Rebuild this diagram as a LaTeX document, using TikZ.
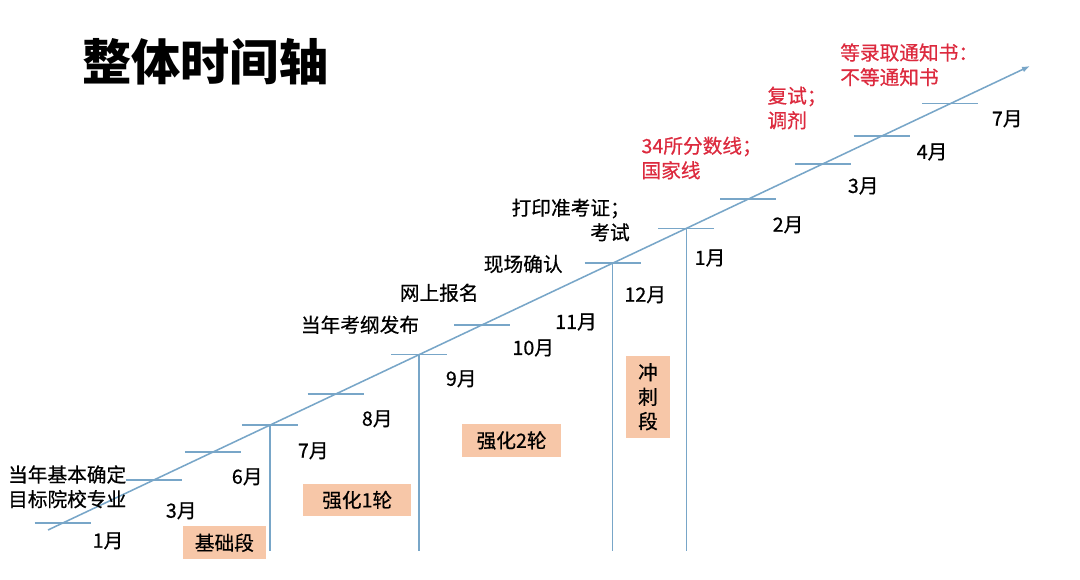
\documentclass[tikz,border=0pt]{standalone}
\usepackage{fontspec}
\setmainfont{Noto Sans CJK SC}[UprightFeatures={FakeBold=0.6}]
\usepackage{tikz}
\usetikzlibrary{arrows.meta,positioning,calc}
\definecolor{axisblue}{RGB}{120,166,200}
\definecolor{notered}{RGB}{220,42,62}
\definecolor{stagefill}{RGB}{247,199,168}
\tikzset{
	month/.style={font=\fontsize{14}{17}\selectfont},
	note/.style={font=\fontsize{14}{17.5}\selectfont, inner sep=0pt},
	rednote/.style={note, text=notered, align=left},
	stage/.style={fill=stagefill, font=\fontsize{14}{17.4}\selectfont, inner sep=0pt, minimum height=0.82cm},
	tickline/.style={axisblue, line width=1.1pt}
}

\begin{document}
\begin{tikzpicture}
		\useasboundingbox (0,0) rectangle (27,14.5);
		\node [font=\fontsize{35}{40}\selectfont\bfseries](title) at (5.13,12.96) {整体时间轴};
		% axis
		\coordinate (s) at (1.2,1.25);
		\coordinate (e) at (25.75,12.85);
		\coordinate (bottom) at (0,0.72);
		\draw [tickline, -{Latex[length=2mm]}] (s) -- (e);
		\foreach \p/\n in {0.015/jan1, 0.108/mar1, 0.168/jun, 0.226/jul1, 0.293/aug, 0.378/sep, 0.442/oct, 0.575/dec, 0.650/jan2, 0.713/feb, 0.789/mar2, 0.849/apr, 0.919/jul2}
			\path (s) -- (e) coordinate [pos=\p] (\n);
		\foreach \n in {jan1, mar1, jun, jul1, aug, sep, oct, dec, jan2, feb, mar2, apr, jul2}
			\draw [tickline] ([xshift=-0.7cm]\n) -- ([xshift=0.7cm]\n);
		\foreach \n in {jul1, sep, dec, jan2}
			\draw [tickline] (\n) -- (\n |- bottom);
		% months
		\foreach \n/\x/\y/\m in {a/2.70/0.98/1月, b/4.53/1.73/3月, c/6.18/2.58/6月, d/7.83/3.23/7月, f/9.43/4.03/8月, g/11.53/5.03/9月, h/13.33/5.80/10月, i/14.40/6.45/11月, j/16.13/7.13/12月, k/17.75/8.05/1月, l/19.70/8.88/2月, m/21.58/9.85/3月, n/23.30/10.70/4月, o/25.18/11.53/7月}
			\node [month](m\n) at (\x,\y) {\m};
		% events
		\node [note, align=left](goal) at (1.68,2.33) {当年基本确定\\目标院校专业};
		\node [note](outline) at (9.0,6.38) {当年考纲发布};
		\node [note](apply) at (10.98,7.18) {网上报名};
		\node [note](confirm) at (13.08,7.90) {现场确认};
		\node [note, align=right, anchor=east](exam) at (15.75,9.0) {打印准考证；\\考试};
		\node [rednote, anchor=west](score) at (16.03,10.55) {34所分数线；\\国家线};
		\node [rednote, anchor=west](retest) at (19.18,11.8) {复试；\\调剂};
		\node [rednote, anchor=west](offer) at (21.0,12.88) {等录取通知书：\\不等通知书};
		% stages
		\node [stage, minimum width=2.08cm](base) at (5.61,0.93) {基础段};
		\node [stage, minimum width=2.7cm](round1) at (8.93,2.0) {强化1轮};
		\node [stage, minimum width=2.48cm](round2) at (12.79,3.49) {强化2轮};
		\node [stage, minimum width=1.1cm, minimum height=2.05cm, align=center](sprint) at (16.2,4.58) {冲\\刺\\段};
\end{tikzpicture}
\end{document}
